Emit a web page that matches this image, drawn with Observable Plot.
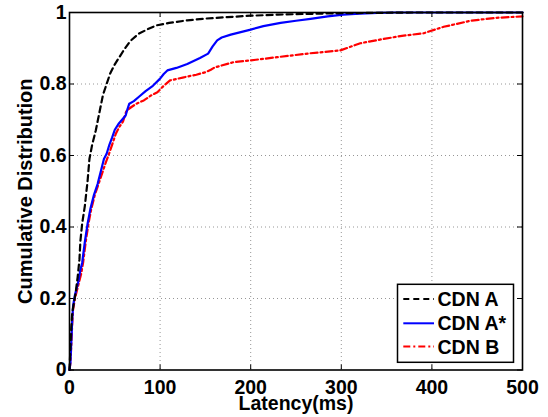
<!DOCTYPE html>
<html>
<head>
<meta charset="utf-8">
<script src="https://cdn.jsdelivr.net/npm/d3@7"></script>
<script src="https://cdn.jsdelivr.net/npm/@observablehq/plot@0.6"></script>
<style>
  html, body { margin: 0; padding: 0; background: #fff; }
  #chart { width: 548px; height: 417px; }
</style>
</head>
<body>
<div id="chart"></div>
<script>
// ---- data ----
const seriesNames = ["CDN A", "CDN A*", "CDN B"];

const cdnALatency = [0, 1, 2, 3, 5, 7, 9, 11, 12, 14, 17, 20, 22, 25, 29, 33, 37, 41, 45, 50, 55, 60, 67, 76, 86, 96, 110, 130, 150, 174, 200, 230, 260, 300, 340, 380, 500];
const cdnACdf     = [0, 0.06, 0.12, 0.16, 0.19, 0.22, 0.26, 0.31, 0.36, 0.41, 0.46, 0.53, 0.59, 0.63, 0.67, 0.72, 0.77, 0.80, 0.83, 0.855, 0.875, 0.895, 0.92, 0.94, 0.953, 0.964, 0.971, 0.978, 0.983, 0.987, 0.991, 0.994, 0.996, 0.998, 0.999, 1, 1];

const cdnAStarLatency = [0, 1, 2, 3, 4, 6, 8, 10, 12, 14, 17, 20, 23, 27, 31, 35, 38, 41, 44, 47, 50, 54, 58, 62, 64, 66, 71, 77, 84, 92, 100, 104, 108, 118, 130, 144, 153, 158, 163, 168, 178, 189, 200, 214, 233, 250, 266, 285, 302, 320, 340, 360, 500];
const cdnAStarCdf     = [0, 0.02, 0.08, 0.14, 0.18, 0.21, 0.23, 0.25, 0.28, 0.30, 0.36, 0.41, 0.45, 0.49, 0.52, 0.56, 0.59, 0.605, 0.63, 0.65, 0.672, 0.688, 0.70, 0.712, 0.73, 0.745, 0.752, 0.765, 0.78, 0.795, 0.815, 0.828, 0.838, 0.845, 0.856, 0.873, 0.885, 0.905, 0.922, 0.93, 0.938, 0.945, 0.952, 0.962, 0.971, 0.977, 0.982, 0.989, 0.994, 0.997, 0.999, 1, 1];

const cdnBLatency = [0, 1, 2, 3, 4, 6, 8, 10, 13, 15, 18, 21, 24, 28, 32, 36, 40, 43, 47, 51, 55, 59, 63, 68, 74, 82, 90, 97, 104, 111, 125, 140, 150, 156, 160, 181, 200, 229, 266, 299, 321, 340, 365, 391, 413, 443, 470, 500];
const cdnBCdf     = [0, 0.02, 0.07, 0.13, 0.17, 0.20, 0.22, 0.24, 0.27, 0.30, 0.36, 0.41, 0.45, 0.49, 0.52, 0.55, 0.58, 0.60, 0.63, 0.66, 0.68, 0.695, 0.726, 0.735, 0.745, 0.754, 0.768, 0.777, 0.795, 0.81, 0.818, 0.826, 0.833, 0.84, 0.846, 0.861, 0.866, 0.875, 0.886, 0.894, 0.914, 0.923, 0.934, 0.942, 0.96, 0.977, 0.985, 0.989];

const xTicks = [0, 100, 200, 300, 400, 500];
const yTicks = [0, 0.2, 0.4, 0.6, 0.8, 1];
const xGrid = [100, 200, 300, 400];
const yGrid = [0.2, 0.4, 0.6, 0.8];
const xLabel = "Latency(ms)";
const yLabel = "Cumulative Distribution";

// ---- build tables ----
const toRows = (name, xs, ys) => xs.map((x, i) => ({series: name, latency: x, cdf: ys[i]}));
const rowsA = toRows(seriesNames[0], cdnALatency, cdnACdf);
const rowsAStar = toRows(seriesNames[1], cdnAStarLatency, cdnAStarCdf);
const rowsB = toRows(seriesNames[2], cdnBLatency, cdnBCdf);

const styles = [
  {stroke: "#000000", dash: "6,4"},
  {stroke: "#0000ff", dash: null},
  {stroke: "#ff0000", dash: "7,3,2,3"}
];

const FONT = "'Liberation Sans', Arial, Helvetica, sans-serif";

const chart = Plot.plot({
  width: 548,
  height: 417,
  marginLeft: 69,
  marginRight: 26,
  marginTop: 12,
  marginBottom: 47.5,
  style: {fontFamily: FONT, background: "#fff", color: "#000", overflow: "visible"},
  x: {domain: [0, 500], axis: null},
  y: {domain: [0, 1], axis: null},
  marks: [
    Plot.gridX(xGrid, {stroke: "#8a8a8a", strokeOpacity: 1, strokeWidth: 0.9, strokeDasharray: "1,3"}),
    Plot.gridY(yGrid, {stroke: "#8a8a8a", strokeOpacity: 1, strokeWidth: 0.9, strokeDasharray: "1,3"}),
    // inward ticks (bottom, top, left, right)
    Plot.ruleX(xTicks, {x: d => d, y1: 0, y2: 0, insetTop: -5, stroke: "#000", strokeWidth: 1}),
    Plot.ruleX(xTicks, {x: d => d, y1: 1, y2: 1, insetBottom: -5, stroke: "#000", strokeWidth: 1}),
    Plot.ruleY(yTicks, {y: d => d, x1: 0, x2: 0, insetRight: -5, stroke: "#000", strokeWidth: 1}),
    Plot.ruleY(yTicks, {y: d => d, x1: 500, x2: 500, insetLeft: -5, stroke: "#000", strokeWidth: 1}),
    Plot.line(rowsB, {x: "latency", y: "cdf", stroke: styles[2].stroke, strokeWidth: 2.2, strokeDasharray: styles[2].dash}),
    Plot.line(rowsAStar, {x: "latency", y: "cdf", stroke: styles[1].stroke, strokeWidth: 2.2}),
    Plot.line(rowsA, {x: "latency", y: "cdf", stroke: styles[0].stroke, strokeWidth: 2.2, strokeDasharray: styles[0].dash}),
    Plot.frame({stroke: "#000", strokeWidth: 1.6}),
    Plot.axisX(xTicks, {tickSize: 0, tickPadding: 10, fontSize: 19.5, fontWeight: "bold", tickFormat: d => String(d), label: null}),
    Plot.axisY(yTicks, {tickSize: 0, tickPadding: 3, fontSize: 19.5, fontWeight: "bold", tickFormat: d => String(d), label: null}),
    Plot.text([xLabel], {frameAnchor: "bottom", text: d => d, dy: 26.5, lineAnchor: "top", textAnchor: "middle", fontSize: 19.5, fontWeight: "bold"}),
    Plot.text([yLabel], {frameAnchor: "left", text: d => d, rotate: -90, dx: -44, lineAnchor: "middle", textAnchor: "middle", fontSize: 20, fontWeight: "bold"})
  ]
});

document.getElementById("chart").appendChild(chart);

// ---- legend (inside the axes, lower right) ----
const svg = d3.select(chart);
const lg = svg.append("g").attr("class", "legend").attr("text-anchor", "start");
const box = {x: 397.5, y: 284.3, w: 116, h: 78};
lg.append("rect")
  .attr("x", box.x).attr("y", box.y).attr("width", box.w).attr("height", box.h)
  .attr("fill", "#fff").attr("stroke", "#000").attr("stroke-width", 1.5);
const rowY = [299, 323.3, 346.5];
seriesNames.forEach((name, i) => {
  lg.append("line")
    .attr("x1", 403.3).attr("x2", 434).attr("y1", rowY[i]).attr("y2", rowY[i])
    .attr("stroke", styles[i].stroke).attr("stroke-width", 2)
    .attr("stroke-dasharray", styles[i].dash);
  lg.append("text")
    .attr("x", 437.5).attr("y", rowY[i]).attr("dy", "0.36em")
    .attr("text-anchor", "start")
    .attr("font-family", FONT).attr("font-size", 19.5).attr("font-weight", "bold")
    .attr("fill", "#000")
    .text(name);
});
</script>
</body>
</html>
